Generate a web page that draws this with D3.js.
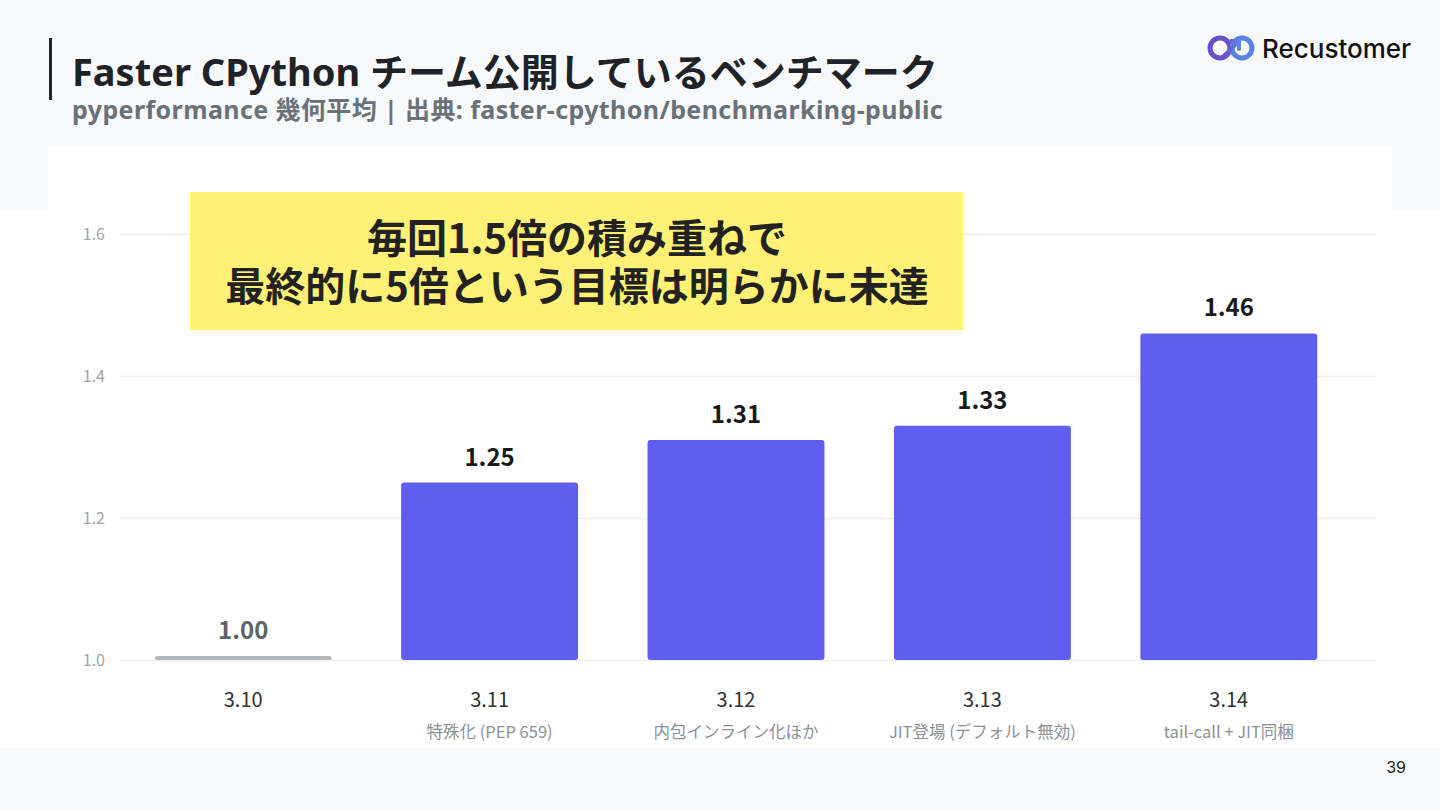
<!DOCTYPE html>
<html>
<head>
<meta charset="utf-8">
<script src="https://cdn.jsdelivr.net/npm/d3@7"></script>
<style>
  html, body { margin: 0; padding: 0; background: #f8f9fb; }
  svg { display: block; }
</style>
</head>
<body>
<svg id="chart" width="1440" height="810" font-family='"Noto Sans CJK JP", "Noto Sans", sans-serif'></svg>
<script>
// data
const versions = ['3.10', '3.11', '3.12', '3.13', '3.14'];
const notes = ['', '特殊化 (PEP 659)', '内包インライン化ほか', 'JIT登場 (デフォルト無効)', 'tail-call + JIT同梱'];
const speedup = [1.00, 1.25, 1.31, 1.33, 1.46];
const yTicks = [1.0, 1.2, 1.4, 1.6];

const titleText = 'Faster CPython チーム公開しているベンチマーク';
const subtitleText = 'pyperformance 幾何平均 | 出典: faster-cpython/benchmarking-public';
const calloutLines = ['毎回1.5倍の積み重ねで', '最終的に5倍という目標は明らかに未達'];

const headFont = '"Noto Sans", "Noto Sans CJK JP", sans-serif';
const logoFont = 'Inter, "Noto Sans", sans-serif';

const svg = d3.select('#chart');

// page background + white panels
svg.append('rect').attr('width', 1440).attr('height', 810).attr('fill', '#f8f9fb');
svg.append('rect').attr('x', 48).attr('y', 145).attr('width', 1344).attr('height', 70).attr('fill', '#ffffff');
svg.append('rect').attr('x', 0).attr('y', 210).attr('width', 1440).attr('height', 538).attr('fill', '#ffffff');

// header
svg.append('rect').attr('x', 49).attr('y', 38).attr('width', 3).attr('height', 62).attr('fill', '#1f2328');
svg.append('text').attr('x', 72).attr('y', 86)
  .attr('font-family', headFont)
  .attr('font-size', 38).attr('font-weight', 700).attr('fill', '#1f2328')
  .text(titleText);
svg.append('text').attr('x', 72).attr('y', 119)
  .attr('font-family', headFont)
  .attr('font-size', 25).attr('font-weight', 700).attr('fill', '#6b7178')
  .attr('letter-spacing', 0.4)
  .text(subtitleText);

// logo
const logo = svg.append('g').attr('transform', 'translate(1231, 48)');
const grad = svg.append('defs').append('linearGradient').attr('id', 'lg')
  .attr('x1', '0%').attr('x2', '100%');
grad.append('stop').attr('offset', '0%').attr('stop-color', '#6b4fc6');
grad.append('stop').attr('offset', '100%').attr('stop-color', '#5b86e5');
logo.append('circle').attr('cx', -11).attr('cy', 0).attr('r', 10)
  .attr('fill', 'none').attr('stroke', '#6a4fc8').attr('stroke-width', 5);
logo.append('circle').attr('cx', 11).attr('cy', 0).attr('r', 10)
  .attr('fill', 'none').attr('stroke', '#5b82e2').attr('stroke-width', 5);
logo.append('path').attr('d', 'M-7,8 L7,-6 M0,-7 L8,-7 L8,1')
  .attr('fill', 'none').attr('stroke', 'url(#lg)').attr('stroke-width', 4)
  .attr('stroke-linecap', 'round').attr('stroke-linejoin', 'round');
svg.append('text').attr('x', 1262).attr('y', 58)
  .attr('font-family', logoFont)
  .attr('font-size', 26).attr('font-weight', 500).attr('fill', '#111111')
  .text('Recustomer');

// page number
svg.append('text').attr('x', 1406).attr('y', 773).attr('text-anchor', 'end')
  .attr('font-family', logoFont)
  .attr('font-size', 16).attr('fill', '#222222').text('39');

// scales
const x = d3.scaleBand().domain(versions).range([120, 1352]).paddingInner(0.282).paddingOuter(0.141);
const y = d3.scaleLinear().domain([1.0, 1.6]).range([660, 234]);

// grid
const grid = svg.append('g').attr('transform', 'translate(120,0)');
grid.call(d3.axisLeft(y).tickValues(yTicks).tickSize(-1256).tickFormat(''));
grid.select('.domain').remove();
grid.selectAll('.tick line').attr('stroke', '#eef0f2').attr('stroke-width', 1.5);

// y labels
svg.append('g').selectAll('text').data(yTicks).join('text')
  .attr('x', 105).attr('y', d => y(d) + 5.5).attr('text-anchor', 'end')
  .attr('font-size', 16).attr('fill', '#a0a5ab')
  .text(d => d3.format('.1f')(d));

// bars
const minH = 4;
svg.append('g').selectAll('rect').data(speedup).join('rect')
  .attr('x', (d, i) => x(versions[i]))
  .attr('width', x.bandwidth())
  .attr('y', d => Math.min(y(d), y(1.0) - minH))
  .attr('height', d => Math.max(y(1.0) - y(d), minH))
  .attr('rx', 3)
  .attr('fill', (d, i) => i === 0 ? '#b4b8bd' : '#5e5fee');

// value labels
svg.append('g').selectAll('text').data(speedup).join('text')
  .attr('x', (d, i) => x(versions[i]) + x.bandwidth() / 2)
  .attr('y', d => Math.min(y(d), y(1.0) - minH) - 17)
  .attr('text-anchor', 'middle')
  .attr('font-size', 24).attr('font-weight', 700)
  .attr('fill', (d, i) => i === 0 ? '#5f6368' : '#1a1a1a')
  .text(d => d3.format('.2f')(d));

// x labels
const xa = svg.append('g').attr('transform', 'translate(0,660)')
  .call(d3.axisBottom(x).tickSize(0).tickPadding(0));
xa.select('.domain').remove();
xa.selectAll('.tick text')
  .attr('y', 47).attr('dy', 0)
  .attr('font-family', '"Noto Sans CJK JP", sans-serif')
  .attr('font-size', 20).attr('fill', '#333333');

svg.append('g').selectAll('text').data(notes).join('text')
  .attr('x', (d, i) => x(versions[i]) + x.bandwidth() / 2)
  .attr('y', 738).attr('text-anchor', 'middle')
  .attr('font-size', 16.5).attr('fill', '#8c9196')
  .text(d => d);

// callout
svg.append('rect').attr('x', 190).attr('y', 192).attr('width', 773).attr('height', 138)
  .attr('fill', '#fff176');
svg.append('g').selectAll('text').data(calloutLines).join('text')
  .attr('x', 577).attr('y', (d, i) => 253 + i * 48)
  .attr('text-anchor', 'middle')
  .attr('font-size', 40).attr('font-weight', 700).attr('fill', '#222222')
  .text(d => d);
</script>
</body>
</html>
